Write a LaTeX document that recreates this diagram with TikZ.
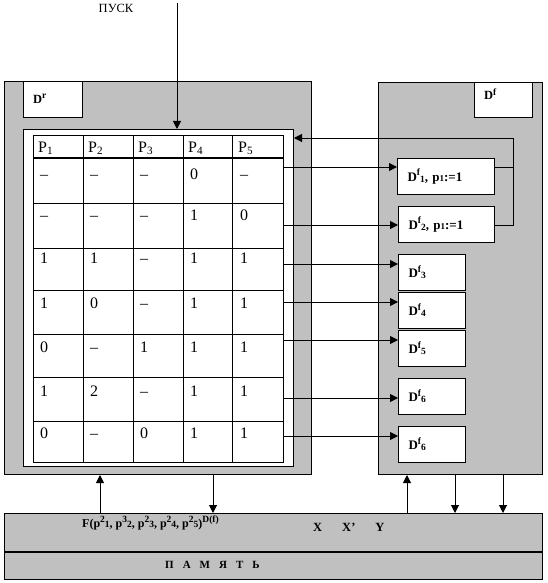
\documentclass[tikz,border=0pt]{standalone}
\usepackage{fontspec}
\setmainfont{Liberation Serif}
\usetikzlibrary{arrows.meta,calc}
\definecolor{panelgray}{RGB}{192,192,192}
\newcommand\sps[1]{\raisebox{0.4em}{\fontsize{9.5}{10}\selectfont #1}}
\newcommand\sbs[1]{\raisebox{-0.08em}{\fontsize{9.5}{10}\selectfont #1}}

\tikzset{
  panel/.style={draw, fill=panelgray, line width=1pt, anchor=north west, inner sep=0pt},
  whitebox/.style={draw, fill=white, line width=1pt, anchor=north west, inner sep=0pt},
  dfbox/.style={draw, fill=white, line width=1pt, anchor=north west, minimum height=36pt,
    inner xsep=10pt, inner ysep=0pt, align=left, font=\fontsize{13}{15}\selectfont\bfseries},
  arr/.style={-{Triangle[length=8pt,width=8pt]}, line width=1pt},
  cell/.style={anchor=base west, inner sep=0pt, font=\fontsize{16}{18}\selectfont},
  boldlbl/.style={anchor=base west, inner sep=0pt, font=\fontsize{12.5}{14}\selectfont\bfseries},
}

\begin{document}
\begin{tikzpicture}[x=1pt,y=-1pt]
\useasboundingbox (0,0) rectangle (547,583);

% start signal
\node[font=\fontsize{12.5}{14}\selectfont] (pusk) at (116,8) {ПУСК};
\coordinate (start) at (177,3);

% left block with the table
\node[panel, minimum width=307pt, minimum height=393pt] (left) at (4,81) {};
\node[whitebox, minimum width=59pt, minimum height=36pt] (dr) at (23,81) {};
\node[boldlbl] (drlbl) at (33,103) {D\sps{r}};
\node[whitebox, minimum width=270pt, minimum height=337pt] (frame) at (23,129) {};
\node[whitebox, minimum width=250pt, minimum height=327pt] (tab) at (33,135) {};

% grid of the table
\foreach \x in {83,133,183,232}
  \draw[line width=1pt] (\x,135) -- (\x,462);
\foreach \y in {203,248,290,334,377,421}
  \draw[line width=1pt] (33,\y) -- (283,\y);
\draw[line width=2pt] (33,158) -- (283,158);

% header and entries
\foreach \j in {1,...,5}
  \node[cell] (h\j) at ({33+50*(\j-1)+5},152) {P\textsubscript{\j}};
\foreach \y/\row in {173/{–,–,–,0,–}, 214/{–,–,–,1,0}, 257/{1,1,–,1,1},
    302/{1,0,–,1,1}, 346/{0,–,1,1,1}, 390/{1,2,–,1,1}, 432/{0,–,0,1,1}}{
  \foreach \v [count=\j] in \row
    \node[cell] (c\y-\j) at ({33+50*(\j-1)+7},\y+6) {\v};
}

% right block
\node[panel, minimum width=164pt, minimum height=392pt] (right) at (378,82) {};
\node[whitebox, minimum width=58pt, minimum height=35pt] (df) at (474,82) {};
\node[boldlbl] (dflbl) at (484,100) {D\sps{f}};

\node[dfbox, text width=77pt] (d1) at (397,158) {D\sps{f}\sbs{1}, p{\small 1}:=1};
\node[dfbox, text width=76pt] (d2) at (398,206) {D\sps{f}\sbs{2}, p{\small 1}:=1};
\node[dfbox, text width=47pt] (d3) at (398,254) {D\sps{f}\sbs{3}};
\node[dfbox, text width=47pt] (d4) at (398,292) {D\sps{f}\sbs{4}};
\node[dfbox, text width=47pt] (d5) at (398,330) {D\sps{f}\sbs{5}};
\node[dfbox, text width=47pt] (d6) at (398,378) {D\sps{f}\sbs{6}};
\node[dfbox, text width=47pt] (d7) at (398,426) {D\sps{f}\sbs{6}};

% memory
\node[panel, minimum width=538pt, minimum height=38pt] (mem) at (4,513) {};
\node[panel, minimum width=538pt, minimum height=28pt] (memlow) at (4,551) {};
\draw[line width=2pt] (mem.south west) -- (mem.south east);
\node[boldlbl, font=\fontsize{12}{14}\selectfont\bfseries] (ftext) at (82,527)
  {F(p\sps{2}\sbs{1}, p\sps{3}\sbs{2}, p\sps{2}\sbs{3}, p\sps{2}\sbs{4}, p\sps{2}\sbs{5})\sps{D(f)}};
\node[boldlbl] (xxy) at (313,531) {\spaceskip=20pt X X’ Y};
\node[boldlbl, font=\fontsize{11}{13}\selectfont\bfseries] (pamyat) at (165,568) {\spaceskip=9pt П А М Я Т Ь};

% row outputs
\coordinate (r1) at (283,167);
\coordinate (r2) at (283,225);
\coordinate (r3) at (283,264);
\coordinate (r4) at (283,302);
\coordinate (r5) at (283,340);
\coordinate (r6) at (283,398);
\coordinate (r7) at (283,436);
\foreach \i in {1,...,7}
  \draw[arr] (r\i) -- (r\i -| d\i.west);

% feedback to the table
\coordinate (fb) at (513,138);
\draw[line width=1pt] (d1.east |- r1) -- (r1 -| fb);
\draw[arr] (d2.east |- r2) -| (fb) -- (fb -| frame.east);

\draw[arr] (start) -- (start |- frame.north);

% links to memory
\coordinate (m1) at (100,513);
\coordinate (m2) at (213,513);
\coordinate (m3) at (407,513);
\coordinate (m4) at (455,513);
\coordinate (m5) at (503,513);
\draw[arr] (m1) -- (m1 |- left.south);
\draw[arr] (m2 |- left.south) -- (m2);
\draw[arr] (m3) -- (m3 |- right.south);
\draw[arr] (m4 |- right.south) -- (m4);
\draw[arr] (m5 |- right.south) -- (m5);
\end{tikzpicture}
\end{document}
